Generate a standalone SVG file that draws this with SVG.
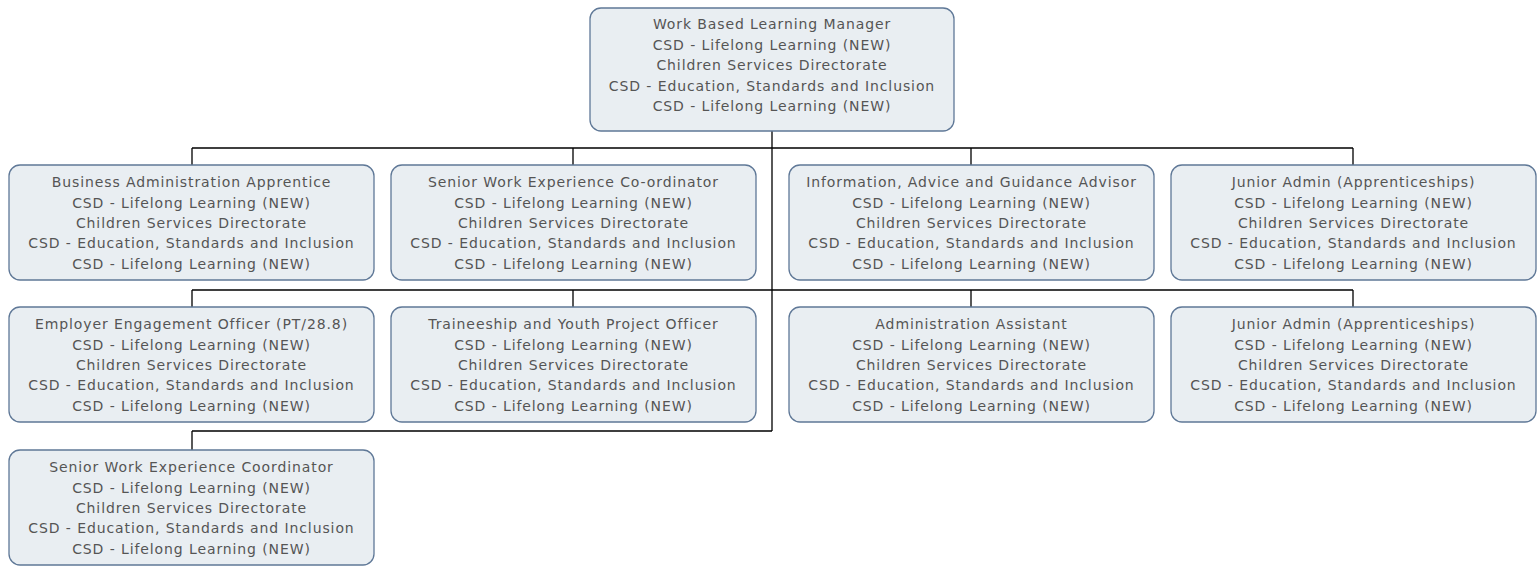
<svg xmlns="http://www.w3.org/2000/svg" width="1537" height="573" viewBox="0 0 1537 573">
<style>
.box{fill:#e9eef2;stroke:#5f7897;stroke-width:1.3}
.t{font-family:"DejaVu Sans",sans-serif;font-size:14px;fill:#555;text-anchor:middle;letter-spacing:0.9px}
.c{stroke:#000;stroke-width:1.3;fill:none}
</style>
<rect width="1537" height="573" fill="#fff"/>
<g id="connectors">
<path class="c" d="M772 131V431M192 148H1353M192 148V165M573 148V165M971 148V165M1353 148V165M192 290H1353M192 290V307M573 290V307M971 290V307M1353 290V307M192 431H772M192 431V450"/>
</g>
<g id="n0"><rect class="box" x="590" y="8" width="364" height="123" rx="11"/>
<text class="t" x="772" y="29">Work Based Learning Manager</text><text class="t" x="772" y="50">CSD - Lifelong Learning (NEW)</text><text class="t" x="772" y="70">Children Services Directorate</text><text class="t" x="772" y="91">CSD - Education, Standards and Inclusion</text><text class="t" x="772" y="111">CSD - Lifelong Learning (NEW)</text></g>
<g id="n1"><rect class="box" x="9" y="165" width="365" height="115" rx="11"/>
<text class="t" x="191.5" y="187">Business Administration Apprentice</text><text class="t" x="191.5" y="208">CSD - Lifelong Learning (NEW)</text><text class="t" x="191.5" y="228">Children Services Directorate</text><text class="t" x="191.5" y="248">CSD - Education, Standards and Inclusion</text><text class="t" x="191.5" y="269">CSD - Lifelong Learning (NEW)</text></g>
<g id="n2"><rect class="box" x="391" y="165" width="365" height="115" rx="11"/>
<text class="t" x="573.5" y="187">Senior Work Experience Co-ordinator</text><text class="t" x="573.5" y="208">CSD - Lifelong Learning (NEW)</text><text class="t" x="573.5" y="228">Children Services Directorate</text><text class="t" x="573.5" y="248">CSD - Education, Standards and Inclusion</text><text class="t" x="573.5" y="269">CSD - Lifelong Learning (NEW)</text></g>
<g id="n3"><rect class="box" x="789" y="165" width="365" height="115" rx="11"/>
<text class="t" x="971.5" y="187">Information, Advice and Guidance Advisor</text><text class="t" x="971.5" y="208">CSD - Lifelong Learning (NEW)</text><text class="t" x="971.5" y="228">Children Services Directorate</text><text class="t" x="971.5" y="248">CSD - Education, Standards and Inclusion</text><text class="t" x="971.5" y="269">CSD - Lifelong Learning (NEW)</text></g>
<g id="n4"><rect class="box" x="1171" y="165" width="365" height="115" rx="11"/>
<text class="t" x="1353.5" y="187">Junior Admin (Apprenticeships)</text><text class="t" x="1353.5" y="208">CSD - Lifelong Learning (NEW)</text><text class="t" x="1353.5" y="228">Children Services Directorate</text><text class="t" x="1353.5" y="248">CSD - Education, Standards and Inclusion</text><text class="t" x="1353.5" y="269">CSD - Lifelong Learning (NEW)</text></g>
<g id="n5"><rect class="box" x="9" y="307" width="365" height="115" rx="11"/>
<text class="t" x="191.5" y="329">Employer Engagement Officer (PT/28.8)</text><text class="t" x="191.5" y="350">CSD - Lifelong Learning (NEW)</text><text class="t" x="191.5" y="370">Children Services Directorate</text><text class="t" x="191.5" y="390">CSD - Education, Standards and Inclusion</text><text class="t" x="191.5" y="411">CSD - Lifelong Learning (NEW)</text></g>
<g id="n6"><rect class="box" x="391" y="307" width="365" height="115" rx="11"/>
<text class="t" x="573.5" y="329">Traineeship and Youth Project Officer</text><text class="t" x="573.5" y="350">CSD - Lifelong Learning (NEW)</text><text class="t" x="573.5" y="370">Children Services Directorate</text><text class="t" x="573.5" y="390">CSD - Education, Standards and Inclusion</text><text class="t" x="573.5" y="411">CSD - Lifelong Learning (NEW)</text></g>
<g id="n7"><rect class="box" x="789" y="307" width="365" height="115" rx="11"/>
<text class="t" x="971.5" y="329">Administration Assistant</text><text class="t" x="971.5" y="350">CSD - Lifelong Learning (NEW)</text><text class="t" x="971.5" y="370">Children Services Directorate</text><text class="t" x="971.5" y="390">CSD - Education, Standards and Inclusion</text><text class="t" x="971.5" y="411">CSD - Lifelong Learning (NEW)</text></g>
<g id="n8"><rect class="box" x="1171" y="307" width="365" height="115" rx="11"/>
<text class="t" x="1353.5" y="329">Junior Admin (Apprenticeships)</text><text class="t" x="1353.5" y="350">CSD - Lifelong Learning (NEW)</text><text class="t" x="1353.5" y="370">Children Services Directorate</text><text class="t" x="1353.5" y="390">CSD - Education, Standards and Inclusion</text><text class="t" x="1353.5" y="411">CSD - Lifelong Learning (NEW)</text></g>
<g id="n9"><rect class="box" x="9" y="450" width="365" height="115" rx="11"/>
<text class="t" x="191.5" y="472">Senior Work Experience Coordinator</text><text class="t" x="191.5" y="493">CSD - Lifelong Learning (NEW)</text><text class="t" x="191.5" y="513">Children Services Directorate</text><text class="t" x="191.5" y="533">CSD - Education, Standards and Inclusion</text><text class="t" x="191.5" y="554">CSD - Lifelong Learning (NEW)</text></g>
</svg>
